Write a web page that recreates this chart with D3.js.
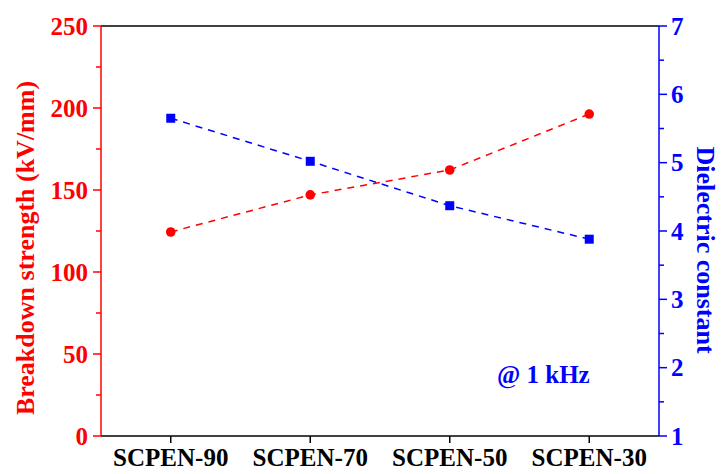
<!DOCTYPE html>
<html><head><meta charset="utf-8">
<script src="https://cdn.jsdelivr.net/npm/d3@7"></script>
<style>body{margin:0;background:#fff}svg{display:block}text{font-family:"Liberation Serif","Times New Roman",serif;font-weight:bold}</style>
</head><body>
<svg id="c" width="722" height="474"></svg>
<script>
const categories = ["SCPEN-90","SCPEN-70","SCPEN-50","SCPEN-30"];
const breakdown = [124.4, 147.0, 162.2, 196.3];
const dielectric = [5.65, 5.02, 4.37, 3.88];
const leftTicks = [0,50,100,150,200,250];
const rightTicks = [1,2,3,4,5,6,7];

const svg = d3.select("#c");
const L=101, R=659, T=26, B=436;
const red="#ff0000", blue="#0000ff";
const x = d3.scalePoint().domain(categories).range([L,R]).padding(0.5);
const yL = d3.scaleLinear().domain([0,250]).range([B,T]);
const yR = d3.scaleLinear().domain([1,7]).range([B,T]);

// frame top & bottom
svg.append("line").attr("x1",L).attr("x2",R).attr("y1",T).attr("y2",T).attr("stroke","#000").attr("stroke-width",1.5);
svg.append("line").attr("x1",L).attr("x2",R).attr("y1",B).attr("y2",B).attr("stroke","#000").attr("stroke-width",1.5);

// left axis
const gL = svg.append("g");
gL.append("line").attr("x1",L).attr("x2",L).attr("y1",T).attr("y2",B).attr("stroke",red).attr("stroke-width",1.5);
d3.range(0,251,25).forEach(v=>{
  const major = v%50===0;
  gL.append("line").attr("x1",L).attr("x2",L-(major?8:5)).attr("y1",yL(v)).attr("y2",yL(v)).attr("stroke",red).attr("stroke-width",1.5);
});
leftTicks.forEach(v=>{
  gL.append("text").attr("x",L-13).attr("y",yL(v)).attr("dy","0.35em").attr("text-anchor","end").attr("fill",red).attr("font-size",25).text(v);
});
svg.append("text").attr("transform",`translate(34,248) rotate(-90)`).attr("text-anchor","middle").attr("fill",red).attr("font-size",26).text("Breakdown strength (kV/mm)");

// right axis
const gR = svg.append("g");
gR.append("line").attr("x1",R).attr("x2",R).attr("y1",T).attr("y2",B).attr("stroke",blue).attr("stroke-width",1.5);
d3.range(1,7.01,0.5).forEach(v=>{
  const major = Math.abs(v-Math.round(v))<1e-6;
  gR.append("line").attr("x1",R).attr("x2",R+(major?8:5)).attr("y1",yR(v)).attr("y2",yR(v)).attr("stroke",blue).attr("stroke-width",1.5);
});
rightTicks.forEach(v=>{
  gR.append("text").attr("x",R+12).attr("y",yR(v)).attr("dy","0.35em").attr("text-anchor","start").attr("fill",blue).attr("font-size",25).text(v);
});
svg.append("text").attr("transform",`translate(697,250) rotate(90)`).attr("text-anchor","middle").attr("fill",blue).attr("font-size",26).text("Dielectric constant");

// bottom ticks
categories.forEach(c=>{
  svg.append("line").attr("x1",x(c)).attr("x2",x(c)).attr("y1",B).attr("y2",B+7).attr("stroke","#000").attr("stroke-width",1.5);
  svg.append("text").attr("x",x(c)).attr("y",466).attr("text-anchor","middle").attr("fill","#000").attr("font-size",25).text(c);
});

// series
const lineL = d3.line().x((d,i)=>x(categories[i])).y(d=>yL(d));
const lineR = d3.line().x((d,i)=>x(categories[i])).y(d=>yR(d));
svg.append("path").attr("d",lineL(breakdown)).attr("fill","none").attr("stroke",red).attr("stroke-width",1.5).attr("stroke-dasharray","7,6");
svg.append("path").attr("d",lineR(dielectric)).attr("fill","none").attr("stroke",blue).attr("stroke-width",1.5).attr("stroke-dasharray","7,6");
svg.selectAll("circle.p").data(breakdown).enter().append("circle").attr("cx",(d,i)=>x(categories[i])).attr("cy",d=>yL(d)).attr("r",4.8).attr("fill",red);
svg.selectAll("rect.p").data(dielectric).enter().append("rect").attr("x",(d,i)=>x(categories[i])-4.5).attr("y",d=>yR(d)-4.5).attr("width",9).attr("height",9).attr("fill",blue);

svg.append("text").attr("x",497).attr("y",383).attr("fill",blue).attr("font-size",25).text("@ 1 kHz");
</script>
</body></html>
